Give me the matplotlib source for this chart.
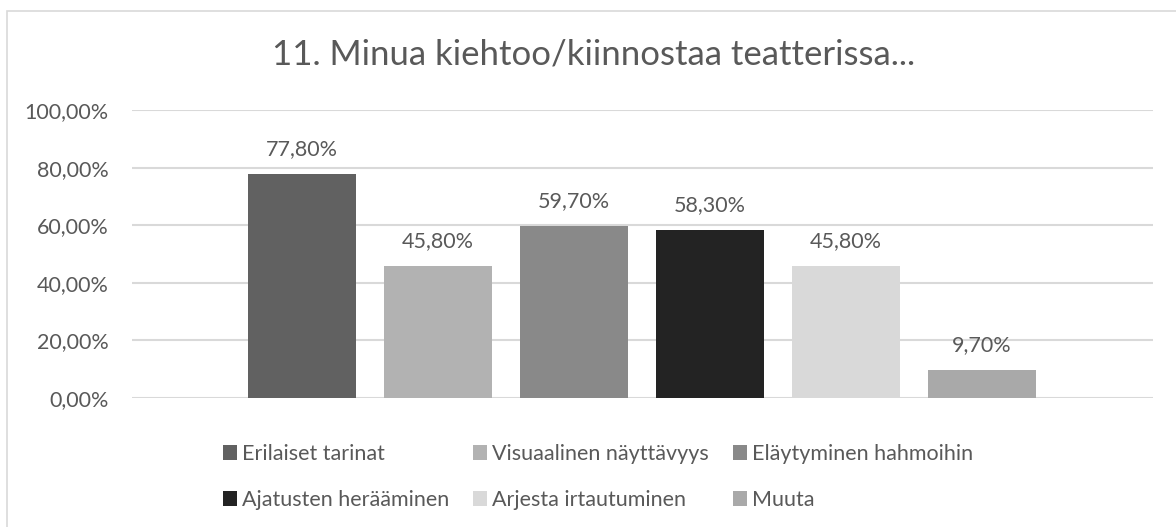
import matplotlib.pyplot as plt
from matplotlib.patches import Patch, Rectangle
from matplotlib.ticker import FuncFormatter

# Data
categories = ['Erilaiset tarinat', 'Visuaalinen näyttävyys', 'Eläytyminen hahmoihin',
              'Ajatusten herääminen', 'Arjesta irtautuminen', 'Muuta']
values = [77.8, 45.8, 59.7, 58.3, 45.8, 9.7]
colors = ['#616161', '#b2b2b2', '#898989', '#232323', '#d9d9d9', '#a9a9a9']
title = '11. Minua kiehtoo/kiinnostaa teatterissa...'

plt.rcParams['font.family'] = ['Lato', 'DejaVu Sans']
text_color = '#595959'
grid_color = '#d9d9d9'
fs = 15.5

W, H = 1176, 527
fig = plt.figure(figsize=(W / 100, H / 100), dpi=100)

# outer chart frame (only left/top edges visible in the crop)
fig.patches.append(Rectangle((7 / W, -0.1), 1.2, (H - 11) / H + 0.1,
                             transform=fig.transFigure, fill=False,
                             edgecolor='#d9d9d9', linewidth=1.2))

ax = fig.add_axes([132 / W, (H - 398) / H, 1021 / W, 288 / H])

x = list(range(len(values)))
ax.bar(x, values, width=0.794, color=colors, zorder=2)

for xi, v in zip(x, values):
    ax.annotate(f'{v:.2f}%'.replace('.', ','), (xi, v), xytext=(0, 18),
                textcoords='offset points', ha='center', va='center',
                fontsize=fs, color=text_color)

ax.set_xlim(-1.25, 6.257)
ax.set_ylim(0, 100)
ax.set_yticks([0, 20, 40, 60, 80, 100])
ax.yaxis.set_major_formatter(FuncFormatter(lambda v, p: f'{v:.2f}%'.replace('.', ',')))
ax.set_xticks([])
ax.tick_params(axis='y', length=0, labelsize=fs, labelcolor=text_color, pad=17)
ax.grid(axis='y', color=grid_color, linewidth=1.5, zorder=0)
for s in ax.spines.values():
    s.set_visible(False)

fig.text(594 / W, 1 - 55 / H, title, ha='center', va='center',
         fontsize=25, color=text_color)

# legend in row-major order
handles = [Patch(facecolor=c, edgecolor='none', label=l) for c, l in zip(colors, categories)]
order = [0, 3, 1, 4, 2, 5]
fig.legend([handles[i] for i in order], [categories[i] for i in order],
           ncol=3, loc='center', bbox_to_anchor=(598 / W, 1 - 477 / H),
           frameon=False, fontsize=fs, labelcolor=text_color,
           handlelength=0.65, handleheight=0.65, handletextpad=0.25,
           columnspacing=1.1, labelspacing=1.2)

fig.savefig('out.png', dpi=100, facecolor='white')
